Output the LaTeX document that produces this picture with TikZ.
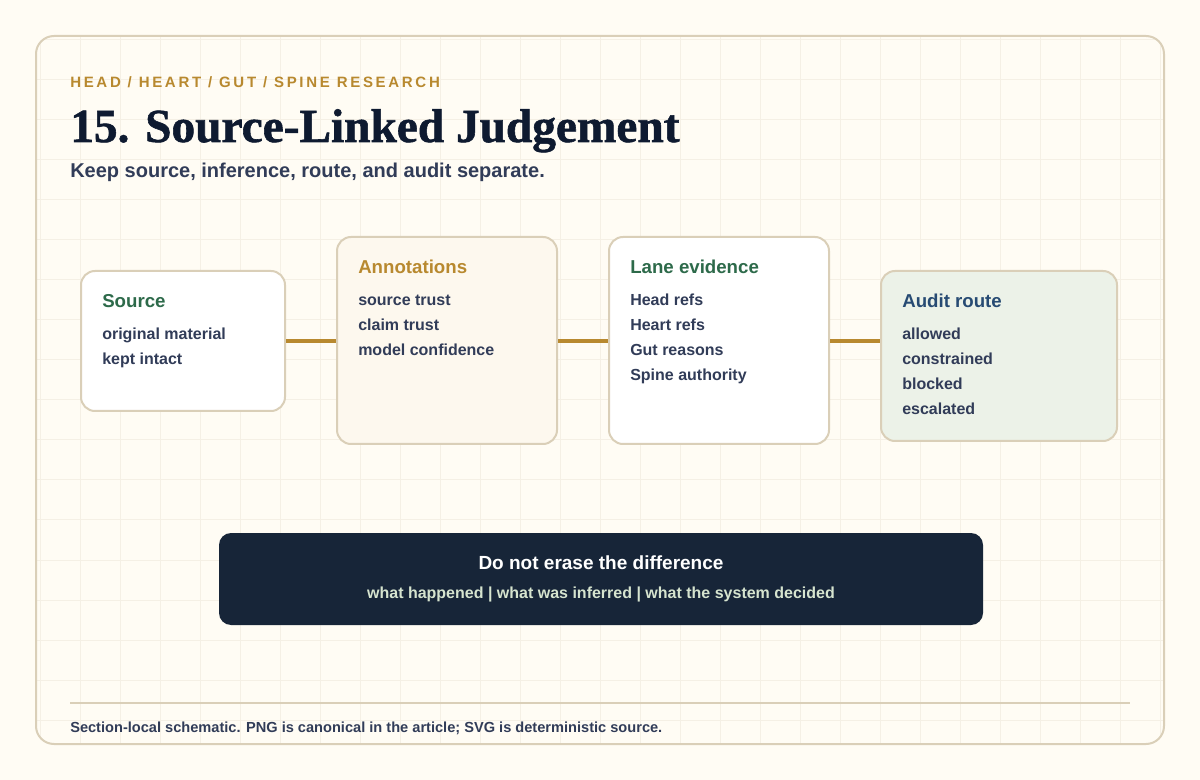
\documentclass[tikz,border=0pt]{standalone}
\usepackage{fontspec}
\setmainfont{Liberation Sans}
\newfontfamily\titlefont[BoldFeatures={FakeBold=1.2}]{Liberation Serif}
\newfontfamily\trackfont[LetterSpace=18]{Liberation Sans}
\usetikzlibrary{positioning}
\definecolor{paper}{HTML}{FFFCF4}
\definecolor{gridc}{HTML}{F5F0E5}
\definecolor{rule}{HTML}{DACFB8}
\definecolor{gold}{HTML}{B8892F}
\definecolor{ink}{HTML}{0E1A30}
\definecolor{slate}{HTML}{313C58}
\definecolor{leaf}{HTML}{2D6A4A}
\definecolor{sea}{HTML}{274B73}
\definecolor{cream}{HTML}{FDF8EE}
\definecolor{mint}{HTML}{ECF2E8}
\definecolor{night}{HTML}{172538}
\definecolor{pale}{HTML}{D6E4CF}

\begin{document}
\begin{tikzpicture}[
		x=0.75pt, y=-0.75pt,
		panel/.style={
			rectangle,
			draw=rule,
			line width=1.5pt,
			rounded corners=10.5pt,
			anchor=north west,
			inner sep=0pt
		},
		boxtitle/.style={anchor=base west, inner sep=0pt, font=\bfseries\fontsize{14}{16}\selectfont},
		item/.style={anchor=base west, inner sep=0pt, text=slate, font=\bfseries\fontsize{12}{14}\selectfont},
		link/.style={draw=gold, line width=3pt}
	]
		\useasboundingbox (0,0) rectangle (1200,780);
		\fill[paper] (0,0) rectangle (1200,780);
		
		\begin{scope}
			\clip[rounded corners=13.5pt] (36,36) rectangle (1164,744);
			\foreach \gx in {40,80,...,1160} \draw[gridc, line width=0.75pt] (\gx,36) -- (\gx,744);
			\foreach \gy in {40,80,...,720} \draw[gridc, line width=0.75pt] (36,\gy) -- (1164,\gy);
		\end{scope}
		\draw[rule, line width=1.5pt, rounded corners=13.5pt] (36,36) rectangle (1164,744);
		
		\node [anchor=base west, inner sep=0pt, text=gold, font=\trackfont\bfseries\fontsize{11.25}{13}\selectfont] (kicker) at (70,88) {HEAD / HEART / GUT / SPINE RESEARCH};
		\node [anchor=base west, inner sep=0pt, text=ink, font=\titlefont\bfseries\fontsize{35.5}{40}\selectfont] (title) at (70,142) {15. Source-Linked Judgement};
		\node [anchor=base west, inner sep=0pt, text=slate, font=\bfseries\fontsize{15}{18}\selectfont] (subtitle) at (70,178) {Keep source, inference, route, and audit separate.};
		
		\node[panel, fill=white, minimum width=153pt, minimum height=105pt](src) at (80,270) {};
		\node[panel, fill=cream, minimum width=165pt, minimum height=155.25pt](ann) at (336,236) {};
		\node[panel, fill=white, minimum width=165pt, minimum height=155.25pt](lane) at (608,236) {};
		\node[panel, fill=mint, minimum width=177pt, minimum height=127.5pt](audit) at (880,270) {};
		
		\draw[link] (src.east) -- (src.east -| ann.west);
		\draw[link] (src.east -| ann.east) -- (src.east -| lane.west);
		\draw[link] (src.east -| lane.east) -- (src.east -| audit.west);
		
		\node [boxtitle, text=leaf] at([shift={(22,38)}] src.north west) {Source};
		\foreach \t [count=\i] in {original material, kept intact}
			\node [item] at([shift={(22,45+25*\i)}] src.north west) {\t};
		
		\node [boxtitle, text=gold] at([shift={(22,38)}] ann.north west) {Annotations};
		\foreach \t [count=\i] in {source trust, claim trust, model confidence}
			\node [item] at([shift={(22,45+25*\i)}] ann.north west) {\t};
		
		\node [boxtitle, text=leaf] at([shift={(22,38)}] lane.north west) {Lane evidence};
		\foreach \t [count=\i] in {Head refs, Heart refs, Gut reasons, Spine authority}
			\node [item] at([shift={(22,45+25*\i)}] lane.north west) {\t};
		
		\node [boxtitle, text=sea] at([shift={(22,38)}] audit.north west) {Audit route};
		\foreach \t [count=\i] in {allowed, constrained, blocked, escalated}
			\node [item] at([shift={(22,45+25*\i)}] audit.north west) {\t};
		
		\node[panel, draw=none, fill=night, rounded corners=9pt, minimum width=573pt, minimum height=69pt](banner) at (218,532) {};
		\node [anchor=base, inner sep=0pt, text=white, font=\bfseries\fontsize{14.25}{16}\selectfont] at([shift={(0,38)}] banner.north) {Do not erase the difference};
		\node [anchor=base, inner sep=0pt, text=pale, font=\bfseries\fontsize{12}{14}\selectfont] at([shift={(0,66)}] banner.north) {what happened | what was inferred | what the system decided};
		
		\coordinate (ruleL) at (70,703);
		\coordinate (ruleR) at (1130,703);
		\draw[rule, line width=1.5pt] (ruleL) -- (ruleR);
		\node [anchor=base west, inner sep=0pt, text=slate, font=\bfseries\fontsize{10.95}{13}\selectfont] (footer) at (70,732) {Section-local schematic. PNG is canonical in the article; SVG is deterministic source.};
	\end{tikzpicture}
\end{document}
